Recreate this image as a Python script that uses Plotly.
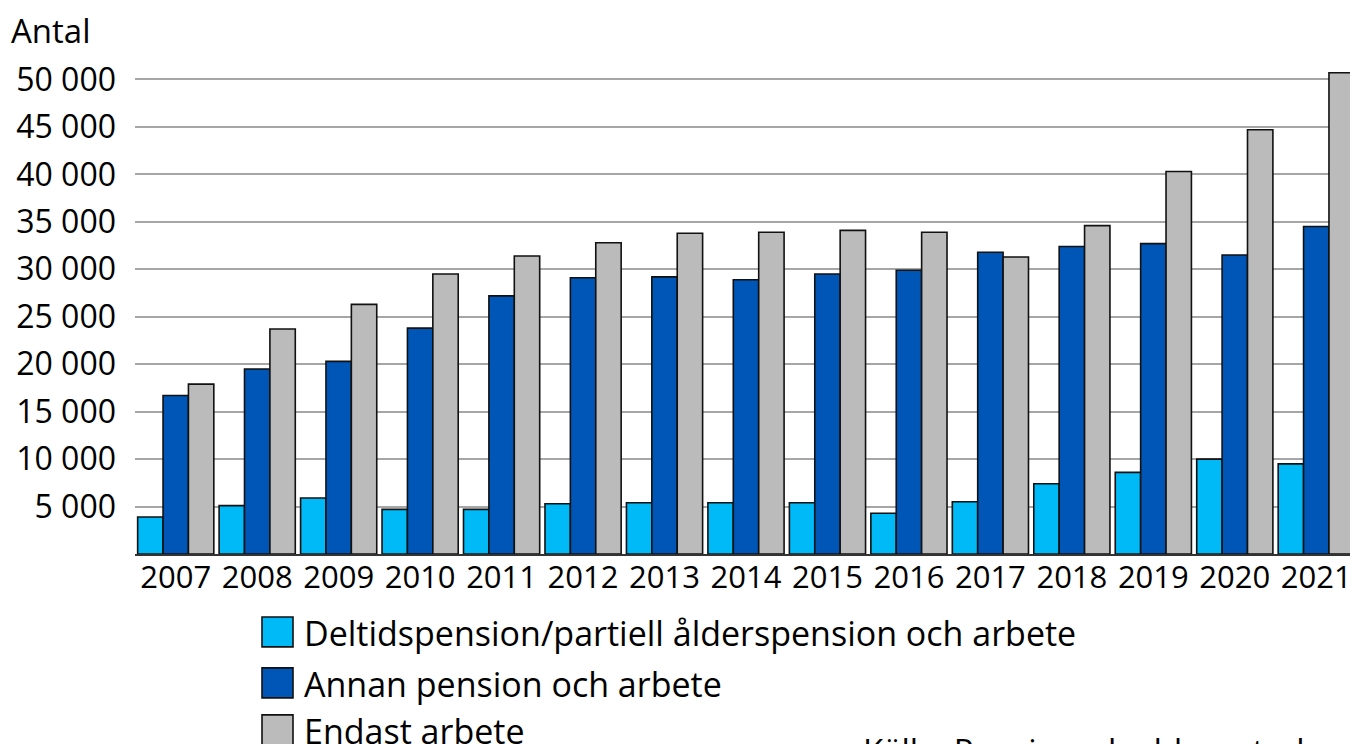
import plotly.graph_objects as go

years = [str(y) for y in range(2007, 2022)]
deltid = [3900, 5100, 5900, 4700, 4700, 5300, 5400, 5400, 5400, 4300, 5500, 7400, 8600, 10000, 9500]
annan = [16700, 19500, 20300, 23800, 27200, 29100, 29200, 28900, 29500, 29900, 31800, 32400, 32700, 31500, 34500]
endast = [17900, 23700, 26300, 29500, 31400, 32800, 33800, 33900, 34100, 33900, 31300, 34600, 40300, 44700, 50700]
series_names = ["Deltidspension/partiell ålderspension och arbete",
                "Annan pension och arbete",
                "Endast arbete"]
series_values = [deltid, annan, endast]
colors = ["#00B9F7", "#0056B7", "#BBBBBB"]
tick_vals = [5000, 10000, 15000, 20000, 25000, 30000, 35000, 40000, 45000, 50000]
tick_text = ["5 000", "10 000", "15 000", "20 000", "25 000", "30 000",
             "35 000", "40 000", "45 000", "50 000"]
y_title = "Antal"
source = "Källa: Pensionsskyddscentralen"

# page has an 8px body margin, so the figure is drawn 8px smaller
OFF = 8
W, H = 1358 - OFF, 744 - OFF
L, R, T, B = 127, 1, 23.5, 190
pw, ph = W - L - R, H - T - B
FONT = "Open Sans"


def px(x):
    return (x - OFF - L) / pw


def py(y):
    return (H - B - (y - OFF)) / ph


fig = go.Figure()
for name, vals, col in zip(series_names, series_values, colors):
    fig.add_trace(go.Bar(x=years, y=vals, name=name, marker_color=col,
                         marker_line=dict(color="#111111", width=1.6),
                         showlegend=False))

shapes = []
annotations = []
rows_y = [632, 683, 730]
for name, col, cy in zip(series_names, colors, rows_y):
    shapes.append(dict(type="rect", xref="paper", yref="paper",
                       x0=px(262), x1=px(293), y0=py(cy - 15), y1=py(cy + 15),
                       fillcolor=col, line=dict(color="#111111", width=1.6)))
    annotations.append(dict(xref="paper", yref="paper", x=px(302), y=py(cy + 1),
                            xanchor="left", yanchor="middle", text=name,
                            showarrow=False,
                            font=dict(family=FONT, size=34, color="#000000")))
annotations.append(dict(xref="paper", yref="paper", x=px(9), y=py(30),
                        xanchor="left", yanchor="middle", text=y_title,
                        showarrow=False,
                        font=dict(family=FONT, size=33, color="#000000")))
annotations.append(dict(xref="paper", yref="paper", x=px(861), y=py(726),
                        xanchor="left", yanchor="top", text=source,
                        showarrow=False,
                        font=dict(family=FONT, size=33, color="#000000")))

fig.update_layout(
    width=W, height=H,
    margin=dict(l=L, r=R, t=T, b=B, pad=0),
    paper_bgcolor="white", plot_bgcolor="white",
    barmode="group", bargap=0.065, bargroupgap=0,
    font=dict(family=FONT, size=32, color="#000000"),
    shapes=shapes, annotations=annotations,
    xaxis=dict(showline=True, linecolor="#333333", linewidth=1.5,
               ticks="", ticklabelstandoff=-5,
               tickfont=dict(family=FONT, size=31), showgrid=False),
    yaxis=dict(range=[0, 55000], tickvals=tick_vals, ticktext=tick_text,
               showgrid=True, gridcolor="#A6A6A6", gridwidth=1.5,
               zeroline=False, showline=False, ticks="",
               ticklabelstandoff=18,
               tickfont=dict(family=FONT, size=32)),
)

fig.write_html("out.html")
